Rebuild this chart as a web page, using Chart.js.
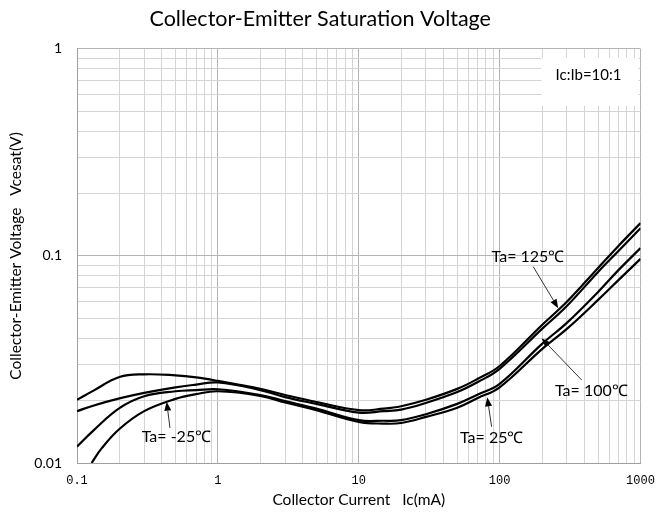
<!DOCTYPE html>
<html><head><meta charset="utf-8">
<script src="https://cdn.jsdelivr.net/npm/chart.js@4"></script>
<style>html,body{margin:0;padding:0;background:#fff;}#wrap{width:657px;height:517px;}</style>
</head><body><div id="wrap"><canvas id="c" width="657" height="517"></canvas></div>
<script>
// Collector current (mA) sample points
const currents = [0.1, 0.13, 0.2, 0.3, 0.5, 0.7, 1, 2, 3, 5, 10, 15, 20, 30, 50, 70, 100, 200, 300, 500, 700, 1000];
const currentsLow = [0.127, 0.15, 0.2, 0.3, 0.5, 0.7, 1, 2, 3, 5, 10, 15, 20, 30, 50, 70, 100, 200, 300, 500, 700, 1000];
// VCE(sat) in volts
const vce125 = [0.0202, 0.0223, 0.0260, 0.0268, 0.0265, 0.0259, 0.0249, 0.0228, 0.0213, 0.0197, 0.0180, 0.0183, 0.0188, 0.0202, 0.0228, 0.0255, 0.0294, 0.0464, 0.0600, 0.0875, 0.112, 0.144];
const vceM25 = [0.0178, 0.0189, 0.0205, 0.0218, 0.0232, 0.0239, 0.0245, 0.0225, 0.0208, 0.0193, 0.0175, 0.0178, 0.0181, 0.0195, 0.0220, 0.0246, 0.0285, 0.0444, 0.0573, 0.0837, 0.106, 0.136];
const vce100 = [0.0120, 0.0143, 0.0184, 0.0210, 0.0222, 0.0225, 0.0227, 0.0213, 0.0199, 0.0183, 0.0161, 0.0160, 0.0161, 0.0172, 0.0193, 0.0214, 0.0241, 0.0376, 0.0475, 0.0670, 0.0856, 0.109];
const vce25 = [0.0100, 0.0118, 0.0146, 0.0178, 0.0204, 0.0215, 0.0222, 0.0211, 0.0196, 0.0180, 0.0158, 0.0155, 0.0156, 0.0167, 0.0185, 0.0206, 0.0232, 0.0355, 0.0444, 0.0613, 0.0766, 0.0967];

const xTickValues = [0.1, 1, 10, 100, 1000];
const xTickLabels = ['0.1', '1', '10', '100', '1000'];
const yTickValues = [0.01, 0.1, 1];
const yTickLabels = ['0.01', '0.1', '1'];

// annotations: text, text position (x,y), arrow tail, arrow tip (data coordinates)
const annTexts = ['Ta= -25\u2103', 'Ta= 25\u2103', 'Ta= 100\u2103', 'Ta= 125\u2103'];
const annTextPos = [[0.288, 0.01335], [52.3, 0.0132], [247, 0.02227], [87.7, 0.0992]];
const annTail = [[0.457, 0.01476], [87.7, 0.01497], [382, 0.02518], [173, 0.0888]];
const annTip = [[0.433, 0.01977], [81.7, 0.02077], [198.7, 0.0400], [260.5, 0.0559]];
const conditionText = 'Ic:Ib=10:1';

function pts(xs, ys) { return xs.map((x, i) => ({x: x, y: ys[i]})); }
function logGrid(min, max) {
  const out = [];
  for (let e = Math.round(Math.log10(min)); e < Math.round(Math.log10(max)); e++) {
    for (let m = 1; m <= 9; m++) out.push(+(m * Math.pow(10, e)).toPrecision(6));
  }
  out.push(max);
  return out;
}
function isDecade(v) { return Math.abs(Math.log10(v) - Math.round(Math.log10(v))) < 1e-6; }
function labelFor(vals, labs) {
  return (v) => { const i = vals.findIndex(t => Math.abs(t - v) / t < 1e-6); return i >= 0 ? labs[i] : ''; };
}

const annotPlugin = {
  id: 'annot',
  beforeDatasetsDraw(chart) {
    const ctx = chart.ctx, a = chart.chartArea;
    ctx.save();
    ctx.fillStyle = '#fff';
    ctx.fillRect(a.right - 99, a.top + 9, 97, 48);
    ctx.fillStyle = '#000';
    ctx.font = '15px Lato';
    ctx.textAlign = 'center';
    ctx.textBaseline = 'middle';
    ctx.fillText(conditionText, a.right - 52, a.top + 26);
    ctx.restore();
  },
  afterDatasetsDraw(chart) {
    const ctx = chart.ctx, xs = chart.scales.x, ys = chart.scales.y;
    ctx.save();
    for (let i = 0; i < annTexts.length; i++) {
      ctx.fillStyle = '#000';
      ctx.font = '16px Lato';
      ctx.textAlign = 'left';
      ctx.textBaseline = 'middle';
      ctx.fillText(annTexts[i], xs.getPixelForValue(annTextPos[i][0]), ys.getPixelForValue(annTextPos[i][1]));
      const x0 = xs.getPixelForValue(annTail[i][0]), y0 = ys.getPixelForValue(annTail[i][1]);
      const x1 = xs.getPixelForValue(annTip[i][0]), y1 = ys.getPixelForValue(annTip[i][1]);
      const ang = Math.atan2(y1 - y0, x1 - x0);
      const hl = 9, hw = 3.5;
      ctx.strokeStyle = '#333';
      ctx.lineWidth = 1;
      ctx.beginPath();
      ctx.moveTo(x0, y0);
      ctx.lineTo(x1 - Math.cos(ang) * hl, y1 - Math.sin(ang) * hl);
      ctx.stroke();
      ctx.fillStyle = '#000';
      ctx.beginPath();
      ctx.moveTo(x1, y1);
      ctx.lineTo(x1 - Math.cos(ang) * hl - Math.sin(ang) * hw, y1 - Math.sin(ang) * hl + Math.cos(ang) * hw);
      ctx.lineTo(x1 - Math.cos(ang) * hl + Math.sin(ang) * hw, y1 - Math.sin(ang) * hl - Math.cos(ang) * hw);
      ctx.closePath();
      ctx.fill();
    }
    ctx.restore();
  }
};

const gridColor = (c) => (c.tick && isDecade(c.tick.value)) ? '#b4b4b4' : '#d4d4d4';

new Chart(document.getElementById('c'), {
  type: 'line',
  data: {
    datasets: [
      {label: 'Ta=125\u2103', data: pts(currents, vce125)},
      {label: 'Ta=-25\u2103', data: pts(currents, vceM25)},
      {label: 'Ta=100\u2103', data: pts(currents, vce100)},
      {label: 'Ta=25\u2103', data: pts(currentsLow, vce25)}
    ]
  },
  options: {
    responsive: false,
    animation: false,
    layout: {padding: {left: 0, right: 16.5, top: 0, bottom: 0}},
    elements: {
      point: {radius: 0},
      line: {borderColor: '#000', borderWidth: 2.2, tension: 0.4, fill: false}
    },
    plugins: {
      legend: {display: false},
      tooltip: {enabled: false},
      title: {
        display: true, text: 'Collector-Emitter Saturation Voltage', color: '#000',
        font: {family: 'Lato', size: 21.5, weight: 'normal'}, padding: {top: 6, bottom: 17}
      }
    },
    scales: {
      x: {
        type: 'logarithmic', min: 0.1, max: 1000,
        afterBuildTicks(s) { s.ticks = logGrid(0.1, 1000).map(v => ({value: v, major: isDecade(v)})); },
        afterFit(s) { s.height = 54; s.paddingLeft = 0; s.paddingRight = 0; },
        border: {color: '#a0a0a0', width: 1},
        grid: {color: gridColor, drawTicks: false, lineWidth: 1},
        ticks: {autoSkip: false, maxRotation: 0, padding: 11, color: '#000',
          font: {family: 'Liberation Mono', size: 12}, callback: labelFor(xTickValues, xTickLabels)},
        title: {display: true, text: 'Collector Current   Ic(mA)', color: '#000',
          font: {family: 'Lato', size: 15.5}, padding: {top: 0, bottom: 8}}
      },
      y: {
        type: 'logarithmic', min: 0.01, max: 1,
        afterBuildTicks(s) { s.ticks = logGrid(0.01, 1).map(v => ({value: v, major: isDecade(v)})); },
        afterFit(s) { s.width = 77; s.paddingTop = 0; s.paddingBottom = 0; },
        border: {color: '#a0a0a0', width: 1},
        grid: {color: gridColor, drawTicks: false, lineWidth: 1},
        ticks: {autoSkip: false, padding: 15, color: '#000',
          font: {family: 'Lato', size: 14}, callback: labelFor(yTickValues, yTickLabels)},
        title: {display: true, text: 'Collector-Emitter Voltage   Vcesat(V)', color: '#000',
          font: {family: 'Lato', size: 15.5}, padding: {top: 7, bottom: 0}}
      }
    }
  },
  plugins: [annotPlugin]
});
</script></body></html>
